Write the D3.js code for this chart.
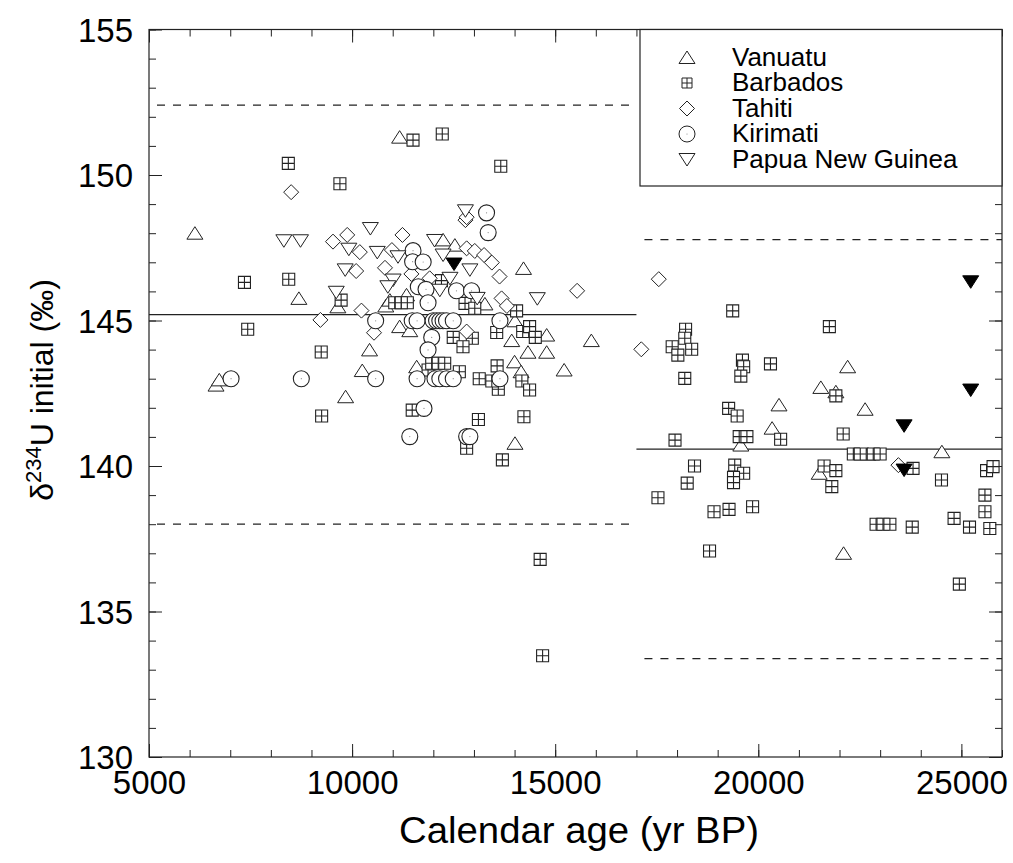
<!DOCTYPE html>
<html>
<head>
<meta charset="utf-8">
<script src="https://cdn.jsdelivr.net/npm/d3@7"></script>
<style>
  body { margin: 0; background: #fff; }
  svg text { font-family: "Liberation Sans", Arial, Helvetica, sans-serif; fill: #000; }
</style>
</head>
<body>
<div id="chart"></div>
<script>
// Data: [calendar age (yr BP), d234U initial (permil)]
var vanuatu = [
  [6130, 148.0], [11170, 151.3], [11340, 145.88], [9650, 145.47], [8690, 145.76],
  [11170, 144.79], [11420, 144.65], [10430, 143.99], [6650, 142.78], [6730, 142.96],
  [10250, 143.28], [9840, 142.38], [11590, 143.41], [14010, 144.99], [13930, 144.31],
  [14330, 143.91], [14790, 143.91], [14790, 144.5], [14000, 143.58], [14160, 143.24],
  [14010, 140.78], [15220, 143.3], [15890, 144.31], [12240, 147.77], [12530, 147.59],
  [14220, 146.79], [13270, 145.57], [10830, 145.5], [10930, 145.7],
  [20510, 142.1], [20340, 141.3], [19570, 140.72], [21540, 142.7], [21500, 139.75],
  [22200, 143.41], [21910, 142.55], [22630, 141.95], [24520, 140.49], [22700, 140.41],
  [22100, 137.0]
];

var barbados = [
  [11500, 151.2], [12220, 151.41], [8430, 150.4], [9700, 149.7], [13660, 150.3],
  [7350, 146.31], [8440, 146.42], [9730, 145.7], [11050, 145.61], [11210, 145.61],
  [11360, 145.61], [7430, 144.7], [9240, 143.92], [9250, 141.72], [11480, 141.92],
  [11870, 143.3], [11960, 143.53], [12120, 143.53], [12280, 143.53], [12640, 143.24],
  [12490, 144.42], [12960, 144.39], [12730, 144.1], [13560, 144.59], [14200, 144.62],
  [14370, 144.79], [14510, 144.42], [14050, 145.33], [13570, 143.44], [13600, 142.64],
  [13440, 142.92], [14180, 142.92], [14370, 142.61], [13130, 143.0], [13110, 141.6],
  [14230, 141.69], [12820, 140.61], [13700, 140.21], [14630, 136.79], [14690, 133.48],
  [12200, 146.37], [12780, 145.59], [13020, 145.42],
  [19370, 145.33], [18210, 144.7], [18190, 144.39], [17880, 144.1], [18020, 143.81],
  [18360, 144.01], [18190, 143.01], [19610, 143.64], [19640, 143.41], [19570, 143.09],
  [20300, 143.51], [19270, 141.98], [19480, 141.72], [17950, 140.89], [19530, 141.01],
  [19720, 141.01], [20550, 140.92], [18430, 140.0], [18250, 139.41], [17530, 138.91],
  [19420, 140.03], [19640, 139.75], [19390, 139.61], [19390, 139.43], [18910, 138.43],
  [19280, 138.51], [19860, 138.6], [21620, 140.0], [21750, 144.79], [21910, 142.41],
  [22090, 141.1], [22340, 140.41], [22510, 140.41], [22830, 140.41], [23000, 140.41],
  [23810, 139.92], [21910, 139.84], [21810, 139.29], [24510, 139.52], [25620, 139.84],
  [25780, 139.98], [25580, 139.0], [25580, 138.43], [22900, 138.0], [23070, 138.0],
  [23240, 138.0], [23790, 137.9], [24820, 138.2], [24950, 135.94], [18800, 137.08],
  [25200, 137.9], [25700, 137.85]
];

var tahiti = [
  [8500, 149.41], [9530, 147.71], [9880, 147.94], [10190, 147.35], [11240, 147.94],
  [10980, 147.42], [10810, 146.81], [10100, 146.7], [11910, 146.45], [11460, 146.6],
  [10230, 145.34], [9220, 145.02], [10540, 144.58], [12790, 148.45], [12820, 148.55],
  [12820, 147.48], [13020, 147.39], [13250, 147.25], [13440, 146.99], [13630, 146.51],
  [15540, 146.02], [13680, 145.76], [13810, 145.5], [12820, 144.62], [17120, 144.01],
  [17550, 146.42], [23450, 140.03]
];

var kirimati = [
  [11500, 147.4], [11490, 147.02], [11750, 147.01], [11630, 146.16], [11820, 146.07],
  [11870, 145.61], [12570, 146.02], [12940, 146.02], [13310, 148.7], [13350, 148.02],
  [10580, 144.99], [11480, 144.99], [11600, 144.99], [11995, 144.99], [12080, 144.99],
  [12160, 144.99], [12240, 144.99], [12325, 144.99], [12490, 144.99], [13640, 144.99],
  [11960, 144.42], [11870, 143.99],
  [7020, 143.0], [8750, 143.0], [10580, 143.0], [11600, 143.0], [12040, 143.0],
  [12160, 143.0], [12325, 143.0], [12490, 143.0], [13640, 143.0],
  [11770, 141.98], [11420, 141.01], [12820, 141.01], [12900, 141.01]
];

var papua = [
  [8320, 147.74], [8730, 147.74], [10450, 148.16], [9920, 147.45], [12030, 147.75],
  [10620, 147.34], [9830, 146.74], [11010, 146.39], [10880, 146.16], [9610, 145.97],
  [12790, 148.77], [12900, 146.74], [12410, 146.45], [12160, 146.04], [13080, 145.76],
  [14560, 145.75], [11130, 147.19], [12240, 147.25]
];

// filled Papua New Guinea symbols
var papuaFilled = [
  [12510, 146.94], [25230, 146.33], [25230, 142.61], [23590, 141.38], [23590, 139.86]
];

// mean lines (solid) and 2-sigma lines (dashed) for the two age ranges
var meanLines = [
  { x0: 5000, x1: 17000, mean: 145.2, lo: 138.0, hi: 152.4 },
  { x0: 17000, x1: 26000, mean: 140.58, lo: 133.38, hi: 147.78 }
];

var legendNames = ["Vanuatu", "Barbados", "Tahiti", "Kirimati", "Papua New Guinea"];

var svgWidth = 1013, svgHeight = 863;

var svg = d3.select("#chart").append("svg")
  .attr("width", svgWidth)
  .attr("height", svgHeight);

var x = d3.scaleLinear().domain([5000, 26000]).range([149, 1002]);
var y = d3.scaleLinear().domain([130, 155]).range([757, 29.5]);

var lineColor = "#222";

// marker paths, centred on (cx, cy)
function triUp(cx, cy) {
  return "M" + (cx - 8) + "," + (cy + 6) + "L" + (cx + 8) + "," + (cy + 6) + "L" + cx + "," + (cy - 6.5) + "Z";
}
function triDown(cx, cy) {
  return "M" + (cx - 8) + "," + (cy - 6) + "L" + (cx + 8) + "," + (cy - 6) + "L" + cx + "," + (cy + 6.5) + "Z";
}
function diamond(cx, cy) {
  return "M" + cx + "," + (cy - 7.5) + "L" + (cx + 7.5) + "," + cy + "L" + cx + "," + (cy + 7.5) + "L" + (cx - 7.5) + "," + cy + "Z";
}
function boxCross(cx, cy, h) {
  return "M" + (cx - h) + "," + (cy - h) + "H" + (cx + h) + "V" + (cy + h) + "H" + (cx - h) + "Z" +
    "M" + cx + "," + (cy - h) + "V" + (cy + h) + "M" + (cx - h) + "," + cy + "H" + (cx + h);
}

// reference lines
var refGroup = svg.append("g");
meanLines.forEach(function(m) {
  refGroup.append("line")
    .attr("x1", x(m.x0)).attr("x2", x(m.x1))
    .attr("y1", y(m.mean)).attr("y2", y(m.mean))
    .attr("stroke", lineColor).attr("stroke-width", 1.2);
  [m.lo, m.hi].forEach(function(v) {
    refGroup.append("line")
      .attr("x1", x(m.x0) + 8).attr("x2", x(m.x1))
      .attr("y1", y(v)).attr("y2", y(v))
      .attr("stroke", lineColor).attr("stroke-width", 1.2)
      .attr("stroke-dasharray", "8,8");
  });
});

// points
var pts = svg.append("g");

pts.selectAll(".van").data(vanuatu).enter().append("path")
  .attr("d", function(d) { return triUp(x(d[0]), y(d[1])); })
  .attr("fill", "#fff").attr("stroke", lineColor).attr("stroke-width", 1);

pts.selectAll(".bar").data(barbados).enter().append("path")
  .attr("d", function(d) { return boxCross(x(d[0]), y(d[1]), 6); })
  .attr("fill", "#fff").attr("stroke", lineColor).attr("stroke-width", 1.1);

pts.selectAll(".tah").data(tahiti).enter().append("path")
  .attr("d", function(d) { return diamond(x(d[0]), y(d[1])); })
  .attr("fill", "#fff").attr("stroke", lineColor).attr("stroke-width", 1);

var kir = pts.selectAll(".kir").data(kirimati).enter().append("g");
kir.append("circle")
  .attr("cx", function(d) { return x(d[0]); })
  .attr("cy", function(d) { return y(d[1]); })
  .attr("r", 8)
  .attr("fill", "#fff").attr("stroke", lineColor).attr("stroke-width", 1.1);
kir.append("circle")
  .attr("cx", function(d) { return x(d[0]); })
  .attr("cy", function(d) { return y(d[1]); })
  .attr("r", 0.6)
  .attr("fill", "#888");

pts.selectAll(".png").data(papua).enter().append("path")
  .attr("d", function(d) { return triDown(x(d[0]), y(d[1])); })
  .attr("fill", "#fff").attr("stroke", lineColor).attr("stroke-width", 1);

pts.selectAll(".pngf").data(papuaFilled).enter().append("path")
  .attr("d", function(d) { return triDown(x(d[0]), y(d[1])); })
  .attr("fill", "#000").attr("stroke", "#000").attr("stroke-width", 1);

// axes with inward ticks on all four sides
var yMajor = d3.range(130, 156, 5), yMinor = d3.range(130, 156, 1);
var xMajor = d3.range(5000, 26001, 5000), xMinor = d3.range(5000, 26001, 1000);

function tickGroup(axis, transform) {
  var g = svg.append("g").attr("transform", transform).call(axis);
  g.select(".domain").remove();
  g.selectAll("line").attr("stroke", lineColor);
  return g;
}

tickGroup(d3.axisLeft(y).tickValues(yMinor).tickSize(-7).tickFormat(""), "translate(149,0)");
tickGroup(d3.axisRight(y).tickValues(yMinor).tickSize(-7).tickFormat(""), "translate(1002,0)");
tickGroup(d3.axisRight(y).tickValues(yMajor).tickSize(-13).tickFormat(""), "translate(1002,0)");
tickGroup(d3.axisBottom(x).tickValues(xMinor).tickSize(-7).tickFormat(""), "translate(0,757)");
tickGroup(d3.axisTop(x).tickValues(xMinor).tickSize(-7).tickFormat(""), "translate(0,29.5)");
tickGroup(d3.axisTop(x).tickValues(xMajor).tickSize(-13).tickFormat(""), "translate(0,29.5)");

var yAxis = tickGroup(d3.axisLeft(y).tickValues(yMajor).tickSize(-13).tickPadding(16).tickFormat(d3.format("d")), "translate(149,0)");
yAxis.selectAll("text").attr("font-size", 33).attr("dy", "0.35em")
  .style("font-family", "'Liberation Sans', Arial, sans-serif");

var xAxis = tickGroup(d3.axisBottom(x).tickValues(xMajor).tickSize(-13).tickPadding(14).tickFormat(d3.format("d")), "translate(0,757)");
xAxis.selectAll("text").attr("font-size", 33).attr("dy", "0.71em")
  .style("font-family", "'Liberation Sans', Arial, sans-serif");

// frame
svg.append("rect")
  .attr("x", 149).attr("y", 29.5)
  .attr("width", 1002 - 149).attr("height", 757 - 29.5)
  .attr("fill", "none").attr("stroke", lineColor).attr("stroke-width", 1.2);

// axis titles
svg.append("text")
  .attr("x", 579).attr("y", 843)
  .attr("text-anchor", "middle")
  .attr("font-size", 36)
  .attr("textLength", 360)
  .attr("lengthAdjust", "spacingAndGlyphs")
  .text("Calendar age (yr BP)");

var yTitle = svg.append("text")
  .attr("transform", "translate(53,390) rotate(-90)")
  .attr("text-anchor", "middle")
  .attr("font-size", 32);
yTitle.append("tspan").text("\u03b4");
yTitle.append("tspan").attr("font-size", 22).attr("dy", -12).text("234");
yTitle.append("tspan").attr("dy", 12).text("U initial  (\u2030)");

// legend
var legend = svg.append("g");
legend.append("rect")
  .attr("x", 640).attr("y", 29.5)
  .attr("width", 1002 - 640).attr("height", 186 - 29.5)
  .attr("fill", "#fff").attr("stroke", lineColor).attr("stroke-width", 1.2);

var legendY = [57.5, 83, 108.5, 134, 159.5];
var sx = 687;
legend.append("path").attr("d", triUp(sx, legendY[0]))
  .attr("fill", "none").attr("stroke", lineColor);
legend.append("path").attr("d", boxCross(sx, legendY[1], 5))
  .attr("fill", "none").attr("stroke", lineColor);
legend.append("path").attr("d", diamond(sx, legendY[2]))
  .attr("fill", "none").attr("stroke", lineColor);
legend.append("circle").attr("cx", sx).attr("cy", legendY[3]).attr("r", 8)
  .attr("fill", "none").attr("stroke", lineColor);
legend.append("circle").attr("cx", sx).attr("cy", legendY[3]).attr("r", 0.6)
  .attr("fill", "#888");
legend.append("path").attr("d", triDown(sx, legendY[4]))
  .attr("fill", "none").attr("stroke", lineColor);

legend.selectAll(".ltext").data(legendNames).enter().append("text")
  .attr("x", 732)
  .attr("y", function(d, i) { return legendY[i] + 8; })
  .attr("font-size", 26)
  .text(function(d) { return d; });
</script>
</body>
</html>
